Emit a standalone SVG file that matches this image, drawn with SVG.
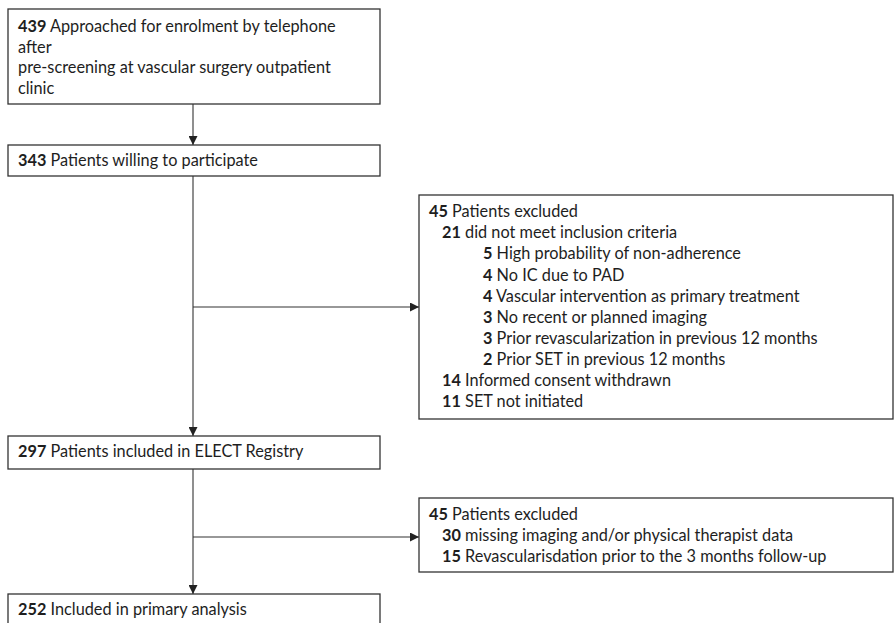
<svg xmlns="http://www.w3.org/2000/svg" width="896" height="623" viewBox="0 0 896 623">
<defs>
<style>
.box{fill:#fff;stroke:#333;stroke-width:1.3}
.line{fill:none;stroke:#333;stroke-width:1.1}
text{font-family:Lato,"Liberation Sans",sans-serif;font-size:16.3px;fill:#1e1e1e}
.b{font-weight:bold}
</style>
<marker id="arr" viewBox="0 0 10 10" refX="10" refY="5" markerWidth="9" markerHeight="9" markerUnits="userSpaceOnUse" orient="auto">
<path d="M0,0 L10,5 L0,10 z" fill="#222"/>
</marker>
</defs>
<rect width="896" height="623" fill="#fff"/>
<g id="connectors">
<line class="line" x1="193" y1="104" x2="193" y2="145" marker-end="url(#arr)"/>
<line class="line" x1="193" y1="176" x2="193" y2="436" marker-end="url(#arr)"/>
<line class="line" x1="193" y1="307" x2="419" y2="307" marker-end="url(#arr)"/>
<line class="line" x1="193" y1="469" x2="193" y2="594" marker-end="url(#arr)"/>
<line class="line" x1="193" y1="537" x2="419" y2="537" marker-end="url(#arr)"/>
</g>
<g id="n1">
<rect class="box" x="8" y="9" width="372" height="95"/>
<text x="18" y="32"><tspan class="b">439</tspan> Approached for enrolment by telephone</text>
<text x="18" y="53">after</text>
<text x="18" y="73">pre-screening at vascular surgery outpatient</text>
<text x="18" y="94">clinic</text>
</g>
<g id="n2">
<rect class="box" x="8" y="145" width="372" height="31"/>
<text x="18" y="166"><tspan class="b">343</tspan> Patients willing to participate</text>
</g>
<g id="n3">
<rect class="box" x="419" y="195" width="474" height="224"/>
<text x="429" y="217"><tspan class="b">45</tspan> Patients excluded</text>
<text x="442" y="238"><tspan class="b">21</tspan> did not meet inclusion criteria</text>
<text x="483" y="259"><tspan class="b">5</tspan> High probability of non-adherence</text>
<text x="483" y="281"><tspan class="b">4</tspan> No IC due to PAD</text>
<text x="483" y="302"><tspan class="b">4</tspan> Vascular intervention as primary treatment</text>
<text x="483" y="323"><tspan class="b">3</tspan> No recent or planned imaging</text>
<text x="483" y="344"><tspan class="b">3</tspan> Prior revascularization in previous 12 months</text>
<text x="483" y="365"><tspan class="b">2</tspan> Prior SET in previous 12 months</text>
<text x="442" y="386"><tspan class="b">14</tspan> Informed consent withdrawn</text>
<text x="442" y="407"><tspan class="b">11</tspan> SET not initiated</text>
</g>
<g id="n4">
<rect class="box" x="8" y="436" width="372" height="33"/>
<text x="18" y="457"><tspan class="b">297</tspan> Patients included in ELECT Registry</text>
</g>
<g id="n5">
<rect class="box" x="419" y="498" width="474" height="74"/>
<text x="429" y="520"><tspan class="b">45</tspan> Patients excluded</text>
<text x="442" y="541"><tspan class="b">30</tspan> missing imaging and/or physical therapist data</text>
<text x="442" y="562"><tspan class="b">15</tspan> Revascularisdation prior to the 3 months follow-up</text>
</g>
<g id="n6">
<rect class="box" x="8" y="594" width="372" height="40"/>
<text x="18" y="615"><tspan class="b">252</tspan> Included in primary analysis</text>
</g>
</svg>
